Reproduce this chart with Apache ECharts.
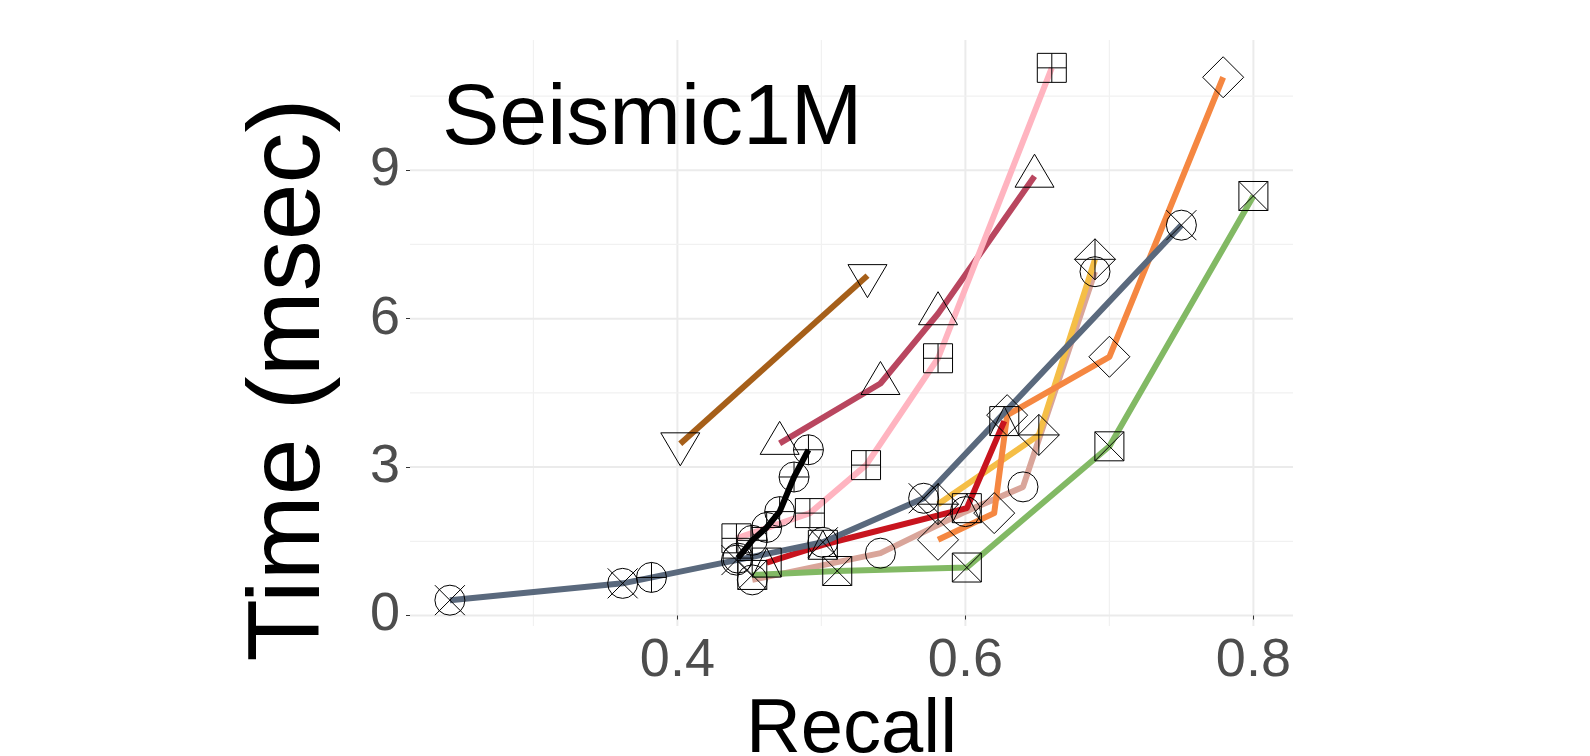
<!DOCTYPE html>
<html>
<head>
<meta charset="utf-8">
<script src="https://cdn.jsdelivr.net/npm/echarts@6/dist/echarts.min.js"></script>
<style>
html,body{margin:0;padding:0;background:#fff;}
#chart{width:1590px;height:756px;}
</style>
</head>
<body>
<div id="chart"></div>
<script>
// ---- tick values ----
const recallTicks = [0.4, 0.6, 0.8];
const recallMinorTicks = [0.3, 0.5, 0.7];
const timeTicks = [0, 3, 6, 9];
const timeMinorTicks = [1.5, 4.5, 7.5, 10.5];

// ---- series values (Recall, Time msec) ----
const brownRecall = [0.402, 0.532];
const brownTime   = [3.47, 6.87];
const raspRecall  = [0.471, 0.541, 0.581, 0.648];
const raspTime    = [3.48, 4.69, 6.10, 8.88];
const pinkRecall  = [0.441, 0.492, 0.531, 0.581, 0.660];
const pinkTime    = [1.56, 2.07, 3.04, 5.20, 11.07];
const rosyRecall  = [0.452, 0.541, 0.600, 0.640, 0.690];
const rosyTime    = [0.72, 1.26, 2.10, 2.60, 6.95];
const yellowRecall = [0.581, 0.651, 0.690];
const yellowTime   = [2.25, 3.65, 7.20];
const orangeRecall = [0.581, 0.620, 0.629, 0.700, 0.779];
const orangeTime   = [1.53, 2.07, 4.05, 5.23, 10.88];
const redRecall   = [0.462, 0.501, 0.601, 0.627];
const redTime     = [1.07, 1.43, 2.17, 3.93];
const greenRecall = [0.452, 0.511, 0.601, 0.700, 0.800];
const greenTime   = [0.82, 0.90, 0.97, 3.42, 8.48];
const slateRecall = [0.242, 0.362, 0.441, 0.501, 0.571, 0.750];
const slateTime   = [0.31, 0.65, 1.12, 1.48, 2.37, 7.89];
const blackRecall = [0.442, 0.452, 0.462, 0.471, 0.481, 0.491];
const blackTime   = [1.16, 1.52, 1.78, 2.10, 2.80, 3.35];
const singleRecall = [0.382];
const singleTime   = [0.77];

const X_MIN = 0.2143, X_MAX = 0.8275;
const Y_MIN = -0.212, Y_MAX = 11.633;
const FONT = "'Liberation Sans', Arial, Helvetica, sans-serif";

const defs = [
  {name:'brown',  color:'#a65f19', shape:'tri_down',   r: brownRecall,  t: brownTime},
  {name:'rasp',   color:'#b9465f', shape:'tri_up',     r: raspRecall,   t: raspTime},
  {name:'pink',   color:'#ffb4c0', shape:'sq_plus',    r: pinkRecall,   t: pinkTime},
  {name:'rosy',   color:'#d9a59a', shape:'circle',     r: rosyRecall,   t: rosyTime},
  {name:'yellow', color:'#f5be46', shape:'dia_plus',   r: yellowRecall, t: yellowTime},
  {name:'orange', color:'#f58741', shape:'diamond',    r: orangeRecall, t: orangeTime},
  {name:'red',    color:'#c8141e', shape:'sq_tri',     r: redRecall,    t: redTime},
  {name:'green',  color:'#82b964', shape:'sq_x',       r: greenRecall,  t: greenTime},
  {name:'slate',  color:'#5a697d', shape:'circle_x',   r: slateRecall,  t: slateTime},
  {name:'black',  color:'#000000', shape:'circle_plus',r: blackRecall,  t: blackTime},
  {name:'single', color:null,      shape:'circle_plus',r: singleRecall, t: singleTime}
];

function zip(a, b) { return a.map((v, i) => [v, b[i]]); }

const ST = {stroke:'#000', lineWidth:1, fill:'none'};
function ln(x1,y1,x2,y2){ return {type:'line', shape:{x1,y1,x2,y2}, style:ST}; }

function markerRenderer(shape) {
  return function(params, api) {
    const c = api.coord([api.value(0), api.value(1)]);
    const x = c[0], y = c[1];
    const ch = [];
    const R = 15, S = 14.5, D = 20.5, TW = 39, TH = 33;
    if (shape === 'circle' || shape === 'circle_x' || shape === 'circle_plus') {
      ch.push({type:'circle', shape:{cx:x, cy:y, r:R}, style:ST});
      if (shape === 'circle_x') { ch.push(ln(x-R,y-R,x+R,y+R)); ch.push(ln(x-R,y+R,x+R,y-R)); }
      if (shape === 'circle_plus') { ch.push(ln(x-R,y,x+R,y)); ch.push(ln(x,y-R,x,y+R)); }
    } else if (shape === 'sq_x' || shape === 'sq_plus' || shape === 'sq_tri') {
      ch.push({type:'rect', shape:{x:x-S, y:y-S, width:2*S, height:2*S}, style:ST});
      if (shape === 'sq_x') { ch.push(ln(x-S,y-S,x+S,y+S)); ch.push(ln(x-S,y+S,x+S,y-S)); }
      if (shape === 'sq_plus') { ch.push(ln(x-S,y,x+S,y)); ch.push(ln(x,y-S,x,y+S)); }
      if (shape === 'sq_tri') { ch.push({type:'polyline', shape:{points:[[x-S,y+S],[x,y-S],[x+S,y+S]]}, style:ST}); }
    } else if (shape === 'diamond' || shape === 'dia_plus') {
      ch.push({type:'polygon', shape:{points:[[x,y-D],[x+D,y],[x,y+D],[x-D,y]]}, style:ST});
      if (shape === 'dia_plus') { ch.push(ln(x-D,y,x+D,y)); ch.push(ln(x,y-D,x,y+D)); }
    } else if (shape === 'tri_up') {
      ch.push({type:'polygon', shape:{points:[[x,y-TH*2/3],[x+TW/2,y+TH/3],[x-TW/2,y+TH/3]]}, style:ST});
    } else if (shape === 'tri_down') {
      ch.push({type:'polygon', shape:{points:[[x,y+TH*2/3],[x+TW/2,y-TH/3],[x-TW/2,y-TH/3]]}, style:ST});
    }
    return {type:'group', children: ch};
  };
}

const series = [];
// grid lines
series.push({
  type:'custom', name:'vgrid', silent:true, z:0,
  encode:{x:0, y:1},
  data: recallTicks.concat(recallMinorTicks).map(v => [v, Y_MIN]),
  renderItem: function(params, api) {
    const v = api.value(0);
    const p1 = api.coord([v, Y_MIN]), p2 = api.coord([v, Y_MAX]);
    const major = recallTicks.indexOf(v) >= 0;
    return {type:'line', shape:{x1:p1[0], y1:p1[1], x2:p2[0], y2:p2[1]},
      style:{stroke: major ? '#ebebeb' : '#f1f1f1', lineWidth: major ? 2 : 1.2}};
  }
});
series.push({
  type:'custom', name:'hgrid', silent:true, z:0,
  encode:{x:0, y:1},
  data: timeTicks.concat(timeMinorTicks).map(v => [X_MIN, v]),
  renderItem: function(params, api) {
    const v = api.value(1);
    const p1 = api.coord([X_MIN, v]), p2 = api.coord([X_MAX, v]);
    const major = timeTicks.indexOf(v) >= 0;
    return {type:'line', shape:{x1:p1[0], y1:p1[1], x2:p2[0], y2:p2[1]},
      style:{stroke: major ? '#ebebeb' : '#f1f1f1', lineWidth: major ? 2 : 1.2}};
  }
});
// lines
defs.forEach((d, i) => {
  if (!d.color) return;
  series.push({
    type:'line', name:d.name, data: zip(d.r, d.t), showSymbol:false, silent:true,
    z: 2, zlevel: 0,
    lineStyle:{color:d.color, width:6, join:'round', cap:'butt'},
    itemStyle:{color:d.color}
  });
});
// markers on top
defs.forEach(d => {
  series.push({
    type:'custom', name:d.name + '_pts', silent:true, z:5,
    encode:{x:0, y:1},
    data: zip(d.r, d.t),
    renderItem: markerRenderer(d.shape)
  });
});

const chart = echarts.init(document.getElementById('chart'), null, {renderer:'canvas'});
chart.setOption({
  animation:false,
  backgroundColor:'#ffffff',
  title:{
    text:'Seismic1M', left:442, top:77, padding:0,
    textStyle:{fontSize:86, fontWeight:'normal', color:'#000', fontFamily:FONT}
  },
  grid:{left:410, right:297, top:40, bottom:130, containLabel:false, outerBoundsMode:'none'},
  xAxis:{
    type:'value', min:X_MIN, max:X_MAX,
    name:'Recall', nameLocation:'middle', nameGap:58,
    nameTextStyle:{fontSize:76, color:'#000', fontFamily:FONT},
    axisLine:{show:false},
    splitLine:{show:false},
    axisTick:{show:true, customValues:recallTicks, length:4, inside:false, lineStyle:{color:'#333', width:1}},
    axisLabel:{customValues:recallTicks, formatter: v => v.toFixed(1), fontSize:54, color:'#4d4d4d', fontFamily:FONT, margin:8}
  },
  yAxis:{
    type:'value', min:Y_MIN, max:Y_MAX,
    axisLine:{show:false},
    splitLine:{show:false},
    axisTick:{show:true, customValues:timeTicks, length:4, inside:false, lineStyle:{color:'#333', width:1}},
    axisLabel:{customValues:timeTicks, formatter: v => String(v), fontSize:54, color:'#4d4d4d', fontFamily:FONT, margin:10}
  },
  graphic:[{
    type:'text', x:291, y:380, rotation:Math.PI/2, silent:true,
    style:{text:'Time (msec)', fontSize:102, fontFamily:FONT, fill:'#000', align:'center', verticalAlign:'middle', textAlign:'center', textVerticalAlign:'middle'}
  }],
  series: series
});
</script>
</body>
</html>
